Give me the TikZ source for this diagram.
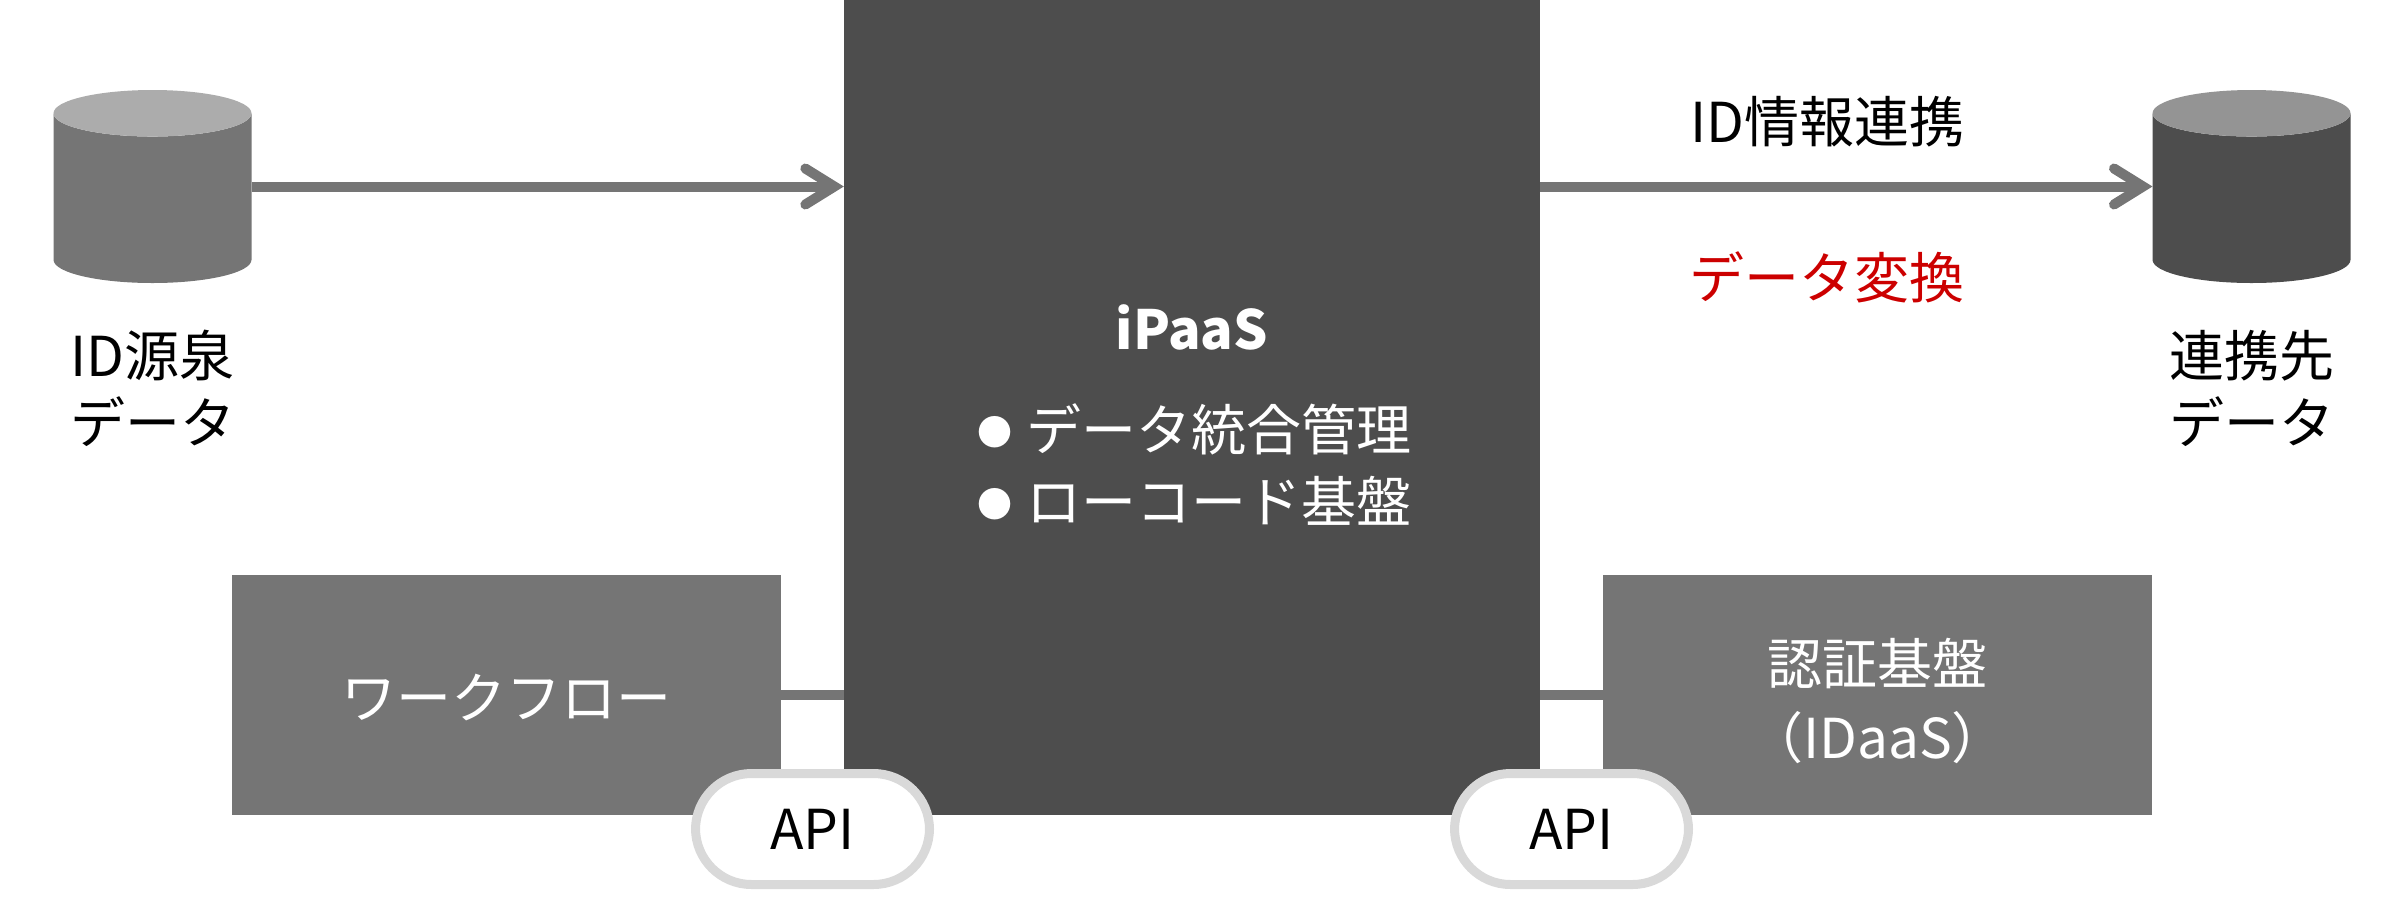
\documentclass[tikz,border=0pt]{standalone}
\usepackage{fontspec}
\setmainfont{Noto Sans CJK JP}
\usetikzlibrary{arrows.meta,positioning,shapes.geometric}
\definecolor{darkbox}{HTML}{4D4D4D}
\definecolor{midbox}{HTML}{757575}
\definecolor{pillline}{HTML}{D9D9D9}
\definecolor{convred}{HTML}{CC0000}
\newcommand{\smallbullet}{\raisebox{5pt}{\fontsize{35}{35}\selectfont ●}\hspace{14pt}}
\tikzset{
  txt/.style = {font=\fontsize{55}{67}\selectfont, align=center, inner sep=0pt},
  sidebox/.style = {fill=midbox, minimum width=549pt, minimum height=240pt, inner sep=0pt},
  sidetxt/.style = {text=white, font=\fontsize{55}{74}\selectfont, align=center, inner sep=0pt},
  db/.style = {shape=cylinder, shape border rotate=90, aspect=0.235, cylinder uses custom fill, anchor=shape center,
    minimum width=198pt, minimum height=193pt, inner xsep=99pt, inner ysep=0pt, outer sep=0pt},
  pill/.style = {draw=pillline, line width=9pt, fill=white, rounded corners=56pt,
    minimum width=234pt, minimum height=111pt, inner sep=0pt, font=\fontsize{55}{60}\selectfont},
  link/.style = {draw=midbox, line width=10pt},
  flow/.style = {link, -{Straight Barb[length=29pt,width=36pt,line cap=round,line join=miter]}}
}
\begin{document}
\begin{tikzpicture}[x=1pt, y=-1pt]
  \useasboundingbox (0,0) rectangle (2405,898);

  \node (ipaas) [fill=darkbox, minimum width=696pt, minimum height=815pt, inner sep=0pt] at (1192,407.5) {};
  \node (srcdb) [db, cylinder body fill=midbox, cylinder end fill=midbox!60] at (152.5,186.5) {};
  \node (dstdb) [db, cylinder body fill=darkbox, cylinder end fill=darkbox!60] at (2251.5,186.5) {};
  \node (wflow) [sidebox] at (506.5,695) {};
  \node (idaas) [sidebox] at (1877.5,695) {};
  \node (wflowtxt) [sidetxt, yshift=-3pt] at (wflow) {ワークフロー};
  \node (idaastxt) [sidetxt, yshift=-6pt] at (idaas) {認証基盤\\（IDaaS）};

  \draw[flow] (srcdb.shape center -| srcdb.east) -- (srcdb.shape center -| ipaas.west);
  \draw[flow] (srcdb.shape center -| ipaas.east) -- (dstdb.shape center -| dstdb.west);
  \draw[link] (wflow) -- (wflow -| ipaas.west);
  \draw[link] (idaas) -- (idaas -| ipaas.east);

  \node (srclabel) [txt, below=47pt of srcdb] {ID源泉\\データ};
  \node (dstlabel) [txt, below=47pt of dstdb] {連携先\\データ};
  \node (idinfo) [txt] at (1827,122) {ID情報連携};
  \node (convert) [txt, text=convred] at (1827,277) {データ変換};

  \node (ipaastitle) [txt, text=white, font=\fontsize{54}{67}\selectfont\bfseries] at (1192,327) {iPaaS};
  \node (ipaaslist) [txt, text=white, align=left, font=\fontsize{55}{72}\selectfont] at (1194,465) {\smallbullet データ統合管理\\\smallbullet ローコード基盤};

  \node (apileft) [pill] at (812.5,829) {API};
  \node (apiright) [pill] at (1571.5,829) {API};
\end{tikzpicture}
\end{document}
